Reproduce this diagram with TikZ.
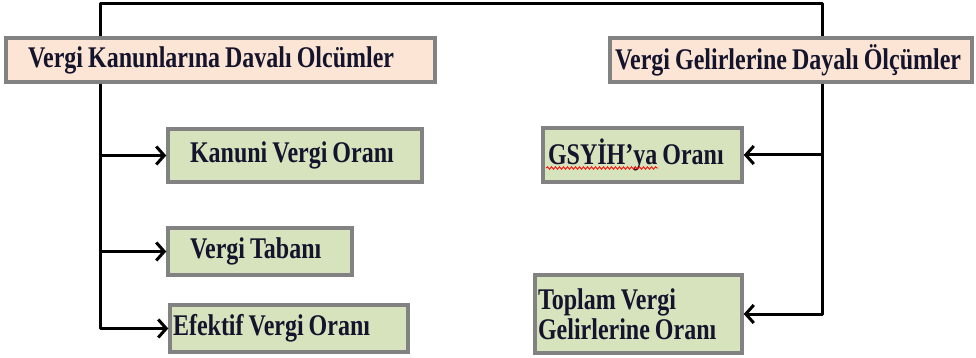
\documentclass[tikz,border=0pt]{standalone}
\usepackage{fontspec}
\newfontfamily\boxfont{Liberation Serif}[FakeStretch=0.8]
\usepackage{tikz}
\usetikzlibrary{arrows.meta,calc,decorations.pathmorphing}
\definecolor{kopru}{RGB}{252,229,212}
\definecolor{yesil}{RGB}{215,227,188}
\definecolor{cerceve}{RGB}{130,130,130}
\definecolor{yazi}{RGB}{20,20,45}

\begin{document}
\begin{tikzpicture}[x=1pt,y=-1pt,
  kutu/.style={draw=cerceve,line width=3.5pt,inner xsep=0pt,inner ysep=0pt,align=left,
    text=yazi,font=\boxfont\bfseries\fontsize{30}{30}\selectfont,
    execute at begin node={\spaceskip=5pt\relax}},
  baslik/.style={kutu,fill=kopru},
  alt/.style={kutu,fill=yesil},
  hat/.style={line width=3pt,line join=round},
  ok/.style={hat,-{Straight Barb[length=8pt,width=18pt,line width=3pt]}}]
\useasboundingbox (0,0) rectangle (976,358);
\node[baslik,minimum width=429pt,minimum height=44pt,text width=385pt] (kanun) at (220.5,60) {\mbox{Vergi Kanunlarına Davalı Olcümler}};
\node[baslik,minimum width=362pt,minimum height=44pt,text width=352pt] (gelir) at (791,60) {\mbox{Vergi Gelirlerine Dayalı Ölçümler}};
\node[alt,minimum width=254pt,minimum height=53pt,text width=210pt] (kvo) at (295,155.5) {\mbox{Kanuni Vergi Oranı}};
\node[alt,minimum width=184pt,minimum height=47pt,text width=140pt] (taban) at (260,251.5) {\mbox{Vergi Tabanı}};
\node[alt,minimum width=238pt,minimum height=47pt,text width=232pt] (efektif) at (289,328.5) {\mbox{Efektif Vergi Oranı}};
\node[alt,minimum width=199pt,minimum height=54pt,text width=189pt] (gsyih) at (642.5,155) {\mbox{GSYİH’ya Oranı}};
\node[alt,minimum width=207pt,minimum height=78pt,text width=201pt] (toplam) at (638.5,314) {\mbox{Toplam Vergi}\\\mbox{Gelirlerine Oranı}};
\coordinate (ust1) at (100,4);
\coordinate (ust2) at (822,4);
\draw[hat] (kanun.north -| ust1) -- (ust1) -- (ust2) -- (gelir.north -| ust2);
\draw[ok] (kanun.south -| ust1) |- (kvo.west);
\draw[ok] (kanun.south -| ust1) |- (taban.west);
\draw[ok] (kanun.south -| ust1) |- (efektif.west);
\draw[ok] (gelir.south -| ust2) |- (gsyih.east);
\draw[ok] (gelir.south -| ust2) |- (toplam.east);
\draw[red,line width=0.8pt,decorate,decoration={snake,amplitude=1.2pt,segment length=4pt}]
  ($(gsyih.west)+(5,13)$) -- ($(gsyih.west)+(117,13)$);
\end{tikzpicture}
\end{document}
